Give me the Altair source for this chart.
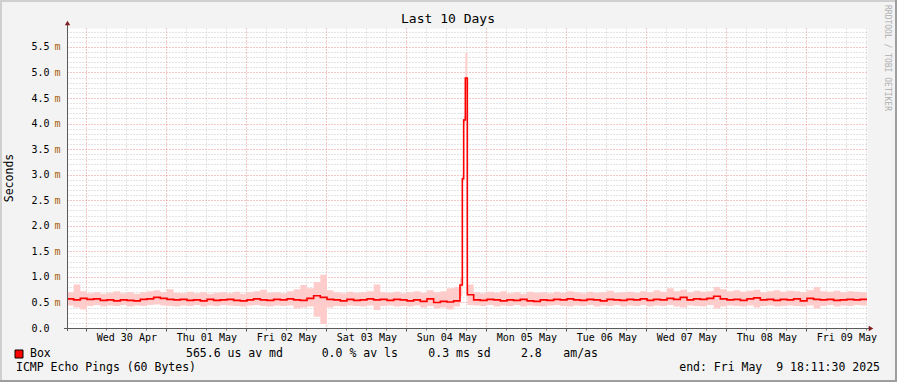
import json
import altair as alt
import pandas as pd

# ---------------- data ----------------
day_labels = ["Wed 30 Apr", "Thu 01 May", "Fri 02 May", "Sat 03 May", "Sun 04 May",
              "Mon 05 May", "Tue 06 May", "Wed 07 May", "Thu 08 May", "Fri 09 May"]

# median RTT (ms), 2-hour bins before the spike (hours 0..116)
median_a = [0.57, 0.55, 0.58, 0.56, 0.57, 0.54, 0.55, 0.53, 0.55, 0.54, 0.53, 0.56,
            0.57, 0.60, 0.58, 0.56, 0.55, 0.56, 0.54, 0.55, 0.53, 0.56, 0.54, 0.55,
            0.56, 0.54, 0.53, 0.55, 0.57, 0.55, 0.54, 0.56, 0.55, 0.57, 0.55, 0.54,
            0.58, 0.63, 0.60, 0.56, 0.55, 0.53, 0.56, 0.54, 0.55, 0.57, 0.55, 0.56,
            0.54, 0.56, 0.55, 0.53, 0.55, 0.52, 0.57, 0.50, 0.52, 0.51, 0.53]
smoke_lo_a = [0.44, 0.40, 0.36, 0.43, 0.45, 0.42, 0.44, 0.43, 0.45, 0.42, 0.44, 0.43,
              0.45, 0.46, 0.44, 0.43, 0.42, 0.44, 0.43, 0.45, 0.42, 0.44, 0.43, 0.45,
              0.44, 0.43, 0.42, 0.44, 0.45, 0.43, 0.42, 0.44, 0.43, 0.44, 0.38, 0.40,
              0.42, 0.22, 0.08, 0.40, 0.43, 0.42, 0.44, 0.43, 0.42, 0.44, 0.35, 0.43,
              0.44, 0.42, 0.43, 0.42, 0.44, 0.40, 0.43, 0.38, 0.40, 0.36, 0.42]
smoke_hi_a = [0.70, 0.85, 0.72, 0.68, 0.70, 0.67, 0.69, 0.72, 0.68, 0.70, 0.67, 0.70,
              0.72, 0.74, 0.70, 0.76, 0.69, 0.68, 0.71, 0.68, 0.70, 0.67, 0.69, 0.70,
              0.68, 0.71, 0.67, 0.70, 0.72, 0.75, 0.69, 0.70, 0.68, 0.72, 0.76, 0.84,
              0.78, 0.90, 1.04, 0.74, 0.70, 0.68, 0.71, 0.69, 0.70, 0.72, 0.85, 0.70,
              0.69, 0.71, 0.68, 0.70, 0.72, 0.69, 0.74, 0.70, 0.72, 0.78, 0.80]

# the spike on Sunday 04 May (hours from start)
spike_hours = [117.9, 118.6, 119.0, 119.5, 120.1]
spike_median = [0.84, 2.92, 4.07, 4.89, 0.65]
spike_lo = [0.62, 2.85, 4.00, 4.60, 0.45]
spike_hi = [1.00, 3.00, 4.15, 5.38, 0.85]

# 2-hour bins after the spike (hours 122..238)
median_b = [0.55, 0.54, 0.56, 0.55, 0.53, 0.55, 0.54, 0.56, 0.53, 0.52, 0.55,
            0.54, 0.56, 0.55, 0.57, 0.55, 0.54, 0.56, 0.55, 0.53, 0.56, 0.55, 0.54,
            0.56, 0.55, 0.57, 0.54, 0.56, 0.55, 0.58, 0.56, 0.60, 0.55, 0.57, 0.56,
            0.58, 0.62, 0.57, 0.55, 0.56, 0.54, 0.57, 0.59, 0.55, 0.56, 0.54, 0.56,
            0.55, 0.57, 0.53, 0.58, 0.56, 0.55, 0.56, 0.54, 0.55, 0.56, 0.55, 0.56]
smoke_lo_b = [0.44, 0.43, 0.45, 0.42, 0.44, 0.43, 0.45, 0.42, 0.44, 0.43, 0.42,
              0.44, 0.45, 0.43, 0.42, 0.44, 0.43, 0.45, 0.42, 0.44, 0.43, 0.45, 0.42,
              0.44, 0.43, 0.45, 0.42, 0.44, 0.43, 0.45, 0.42, 0.40, 0.44, 0.43, 0.42,
              0.45, 0.38, 0.42, 0.44, 0.43, 0.42, 0.44, 0.40, 0.43, 0.44, 0.42, 0.43,
              0.44, 0.43, 0.42, 0.44, 0.38, 0.43, 0.45, 0.42, 0.44, 0.43, 0.45, 0.44]
smoke_hi_b = [0.70, 0.68, 0.71, 0.69, 0.72, 0.68, 0.70, 0.67, 0.71, 0.69, 0.70,
              0.68, 0.71, 0.69, 0.72, 0.70, 0.68, 0.71, 0.69, 0.70, 0.73, 0.69, 0.70,
              0.71, 0.69, 0.72, 0.70, 0.74, 0.71, 0.78, 0.72, 0.75, 0.70, 0.73, 0.71,
              0.72, 0.80, 0.76, 0.72, 0.74, 0.71, 0.73, 0.75, 0.70, 0.72, 0.74, 0.71,
              0.73, 0.72, 0.70, 0.74, 0.80, 0.72, 0.71, 0.73, 0.70, 0.72, 0.71, 0.70]

legend_name = "Box"
legend_stats = ["565.6 us av md", "0.0 % av ls", "0.3 ms sd", "2.8", "am/as"]
footer_left = "ICMP Echo Pings (60 Bytes)"
footer_right = "end: Fri May \u00a09 18:11:30 2025"
title_text = "Last 10 Days"
y_title = "Seconds"
watermark = "RRDTOOL / TOBI OETIKER"

# ---------------- build table ----------------
hours = [2 * i for i in range(59)] + spike_hours + [2 * i for i in range(61, 120)]
med = median_a + spike_median + median_b
lo = smoke_lo_a + spike_lo + smoke_lo_b
hi = smoke_hi_a + spike_hi + smoke_hi_b
TOTAL_H = 240
df = pd.DataFrame({
    "t": hours + [TOTAL_H],
    "med": med + [med[-1]],
    "lo": lo + [lo[-1]],
    "hi": hi + [hi[-1]],
})

FONT = "DejaVu Sans Mono"
first_mid = 24 - (18 + 11 / 60 + 30 / 3600)
minor_x = [first_mid + 6 * k for k in range(40) if k % 4 != 0]
major_x = [first_mid + 24 * k for k in range(10)]
noon0 = first_mid + 12
noon_x = [noon0 + 24 * k for k in range(10)]
major_y = [round(0.5 * k, 1) for k in range(12)]
minor_y = [round(0.1 * k, 1) for k in range(1, 59) if k % 5 != 0]

XS = alt.Scale(domain=[0, TOTAL_H], nice=False, zero=False)
YS = alt.Scale(domain=[0, 5.87], nice=False)

minor_x_axis = alt.Axis(orient="bottom", values=minor_x, grid=True, gridColor="#b0b0b0",
                        gridOpacity=0.7, gridDash=[1, 2], gridWidth=1, labels=False,
                        ticks=True, tickSize=2, tickColor="#777777", domain=False, title=None)
minor_y_axis = alt.Axis(orient="left", values=minor_y, grid=True, gridColor="#b0b0b0",
                        gridOpacity=0.7, gridDash=[1, 2], gridWidth=1, labels=False,
                        ticks=False, domain=False, title=None)
major_x_axis = alt.Axis(orient="bottom", values=major_x, grid=True, gridColor="#e06060",
                        gridOpacity=0.7, gridDash=[1, 2], gridWidth=1, labels=False,
                        ticks=True, tickSize=3, tickColor="#555555", domain=False, title=None)
major_y_axis = alt.Axis(orient="left", values=major_y, grid=True, gridColor="#e06060",
                        gridOpacity=0.7, gridDash=[1, 2], gridWidth=1, labels=True,
                        ticks=False, domain=False,
                        labelExpr="format(datum.value, '.1f')", labelAlign="right",
                        labelBaseline="middle", labelPadding=18, labelFont=FONT,
                        labelFontSize=10, labelColor="#000000", labelOverlap=False,
                        labelFlush=False, title=None)
day_axis = alt.Axis(orient="bottom", values=noon_x, grid=False, ticks=False, domain=False,
                    labelExpr=json.dumps(day_labels) + "[round((datum.value - %f) / 24)]" % noon0,
                    labelFont=FONT, labelFontSize=10, labelColor="#000000",
                    labelBaseline="top", labelPadding=4, labelOverlap=False,
                    labelFlush=False, title=None)
unit_axis = alt.Axis(orient="left", values=major_y[1:], grid=False, ticks=False, domain=False,
                     labelExpr="'m'", labelAlign="right", labelBaseline="middle",
                     labelPadding=7, labelFont=FONT, labelFontSize=10,
                     labelColor="#a8600c", labelOverlap=False, labelFlush=False, title=None)

smoke = alt.Chart(df).mark_area(interpolate="step-after", color="#ffcccc").encode(
    x=alt.X("t:Q", scale=XS, axis=minor_x_axis),
    y=alt.Y("hi:Q", scale=YS, axis=minor_y_axis),
    y2="lo:Q",
)
line = alt.Chart(df).mark_line(interpolate="step-after", color="#ff0000", strokeWidth=1.6).encode(
    x=alt.X("t:Q", scale=XS, axis=major_x_axis),
    y=alt.Y("med:Q", scale=YS, axis=major_y_axis),
)
labels_layer = alt.Chart(df).mark_point(opacity=0).encode(
    x=alt.X("t:Q", scale=XS, axis=day_axis),
    y=alt.Y("med:Q", scale=YS, axis=unit_axis),
)

one = pd.DataFrame({"k": [0]})


def txt(text, x, y, size=11.5, align="left", color="#000000", angle=0, baseline="middle"):
    return alt.Chart(one).mark_text(text=text, font=FONT, fontSize=size, align=align,
                                    baseline=baseline, color=color, angle=angle).encode(
        x=alt.value(x), y=alt.value(y))


def rule(x, x2, y, y2, color, width):
    return alt.Chart(one).mark_rule(color=color, strokeWidth=width).encode(
        x=alt.value(x), x2=alt.value(x2), y=alt.value(y), y2=alt.value(y2))


deco = [
    rule(-3, 802, 300.5, 300.5, "#5a5a5a", 1),
    rule(0.5, 0.5, 303, -4, "#5a5a5a", 1),
    alt.Chart(one).mark_point(shape="triangle-right", filled=True, color="#7f1f1f",
                              size=28, opacity=1).encode(x=alt.value(804), y=alt.value(300.5)),
    alt.Chart(one).mark_point(shape="triangle-up", filled=True, color="#7f1f1f",
                              size=28, opacity=1).encode(x=alt.value(0.5), y=alt.value(-5)),
    txt(title_text, 381, -9, size=13, align="center"),
    txt(y_title, -57, 150, size=11.5, align="center", angle=270),
    txt(watermark, 820, -23, size=8, align="left", color="#b0b0b0", angle=90),
    alt.Chart(one).mark_square(size=64, color="#ff0000", stroke="#000000", strokeWidth=1,
                               opacity=1).encode(x=alt.value(-48), y=alt.value(326)),
    txt(legend_name, -37, 326),
    txt(legend_stats[0], 119, 326),
    txt(legend_stats[1], 254.7, 326),
    txt(legend_stats[2], 361.3, 326),
    txt(legend_stats[3], 454, 326),
    txt(legend_stats[4], 496.3, 326),
    txt(footer_left, -51, 340),
    txt(footer_right, 813, 340, align="right"),
    # outer 3-D border
    rule(-67, 830, -27, -27, "#cfcfcf", 2),
    rule(-66, -66, -28, 354, "#cfcfcf", 2),
    rule(-67, 830, 353, 353, "#9e9e9e", 2),
    rule(829, 829, -28, 354, "#9e9e9e", 2),
]

chart = alt.layer(smoke, line, labels_layer, *deco).resolve_axis(
    x="independent", y="independent"
).properties(
    width=800, height=300,
    autosize=alt.AutoSizeParams(type="none"),
    padding={"left": 67, "top": 28, "right": 30, "bottom": 54},
    background="#f3f3f3",
).configure_view(fill="#ffffff", strokeOpacity=0)

chart.save("out.html", embed_options={"renderer": "svg", "actions": False})
